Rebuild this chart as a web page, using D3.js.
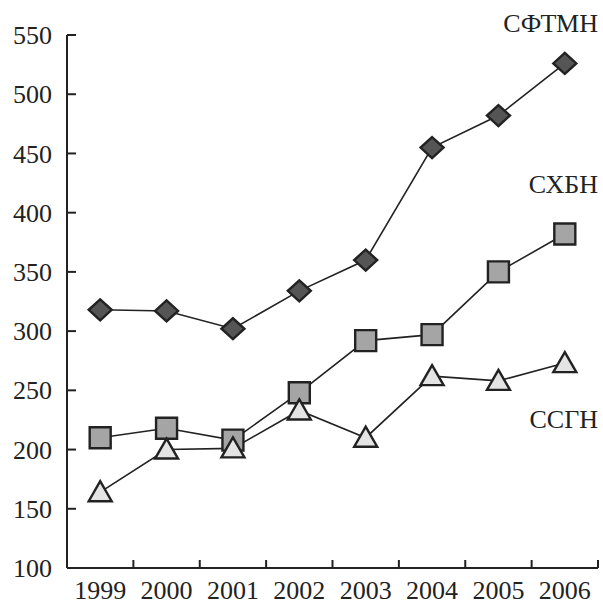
<!DOCTYPE html>
<html>
<head>
<meta charset="utf-8">
<script src="https://cdn.jsdelivr.net/npm/d3@7"></script>
<style>
  body { margin: 0; background: #fff; }
  text { font-family: "Liberation Serif", "DejaVu Serif", serif; fill: #222; }
</style>
</head>
<body>
<div id="chart"></div>
<script>
var years = ["1999", "2000", "2001", "2002", "2003", "2004", "2005", "2006"];
var sftmn = [318, 317, 302, 334, 360, 455, 482, 526];
var sxbn = [210, 218, 208, 248, 292, 297, 350, 382];
var ssgn = [164, 200, 201, 233, 210, 262, 258, 273];
var yTicks = [100, 150, 200, 250, 300, 350, 400, 450, 500, 550];

var W = 603, H = 604;
var margin = {top: 35, right: 5, bottom: 36, left: 67},
    width = W - margin.left - margin.right,
    height = H - margin.top - margin.bottom;

var svg = d3.select("#chart")
  .append("svg")
    .attr("width", W)
    .attr("height", H)
  .append("g")
    .attr("transform", "translate(" + margin.left + "," + margin.top + ")");

var x = d3.scaleBand()
  .domain(years)
  .range([0, width]);

var y = d3.scaleLinear()
  .domain([100, 550])
  .range([height, 0]);

// x axis: ticks between categories, pointing up
var xAxis = svg.append("g")
  .attr("transform", "translate(0," + height + ")");
xAxis.append("line")
  .attr("x1", 0).attr("x2", width)
  .attr("stroke", "#222").attr("stroke-width", 2);
xAxis.selectAll(".tk")
  .data(years)
  .enter().append("line")
    .attr("x1", function (d) { return x(d) + x.bandwidth(); })
    .attr("x2", function (d) { return x(d) + x.bandwidth(); })
    .attr("y1", 0).attr("y2", -8)
    .attr("stroke", "#222").attr("stroke-width", 2);
xAxis.selectAll(".lbl")
  .data(years)
  .enter().append("text")
    .attr("x", function (d) { return x(d) + x.bandwidth() / 2; })
    .attr("y", 31)
    .attr("text-anchor", "middle")
    .style("font-size", "26px")
    .text(function (d) { return d; });

// y axis
var yAxis = svg.append("g");
yAxis.append("line")
  .attr("y1", 0).attr("y2", height)
  .attr("stroke", "#222").attr("stroke-width", 2);
yAxis.selectAll(".tk")
  .data(yTicks)
  .enter().append("line")
    .attr("x1", 0).attr("x2", 9)
    .attr("y1", function (d) { return y(d); })
    .attr("y2", function (d) { return y(d); })
    .attr("stroke", "#222").attr("stroke-width", 2);
yAxis.selectAll(".lbl")
  .data(yTicks)
  .enter().append("text")
    .attr("x", -15)
    .attr("y", function (d) { return y(d); })
    .attr("dy", "0.35em")
    .attr("text-anchor", "end")
    .style("font-size", "26px")
    .text(function (d) { return d; });

var line = d3.line()
  .x(function (d, i) { return x(years[i]) + x.bandwidth() / 2; })
  .y(function (d) { return y(d); });

// marker outlines
var diamond = "M0,-10.5L11.5,0L0,10.5L-11.5,0Z";
var square = "M-10.5,-10.5H10.5V10.5H-10.5Z";
var triangle = "M0,-11L11.5,9L-11.5,9Z";

var series = [
  {name: "СФТМН", values: sftmn, shape: diamond, fill: "#555555", label: 526, dy: -31},
  {name: "СХБН", values: sxbn, shape: square, fill: "#a5a5a5", label: 382, dy: -41},
  {name: "ССГН", values: ssgn, shape: triangle, fill: "#e4e4e4", label: 273, dy: 65}
];

series.forEach(function (s) {
  svg.append("path")
    .datum(s.values)
    .attr("d", line)
    .attr("fill", "none")
    .attr("stroke", "#222")
    .attr("stroke-width", 1.6);
});

series.forEach(function (s) {
  svg.append("g")
    .selectAll("path")
    .data(s.values)
    .enter()
    .append("path")
      .attr("d", s.shape)
      .attr("transform", function (d, i) {
        return "translate(" + (x(years[i]) + x.bandwidth() / 2) + "," + y(d) + ")";
      })
      .attr("fill", s.fill)
      .attr("stroke", "#222")
      .attr("stroke-width", 2.4);

  svg.append("text")
    .attr("x", width)
    .attr("y", y(s.label) + s.dy)
    .attr("text-anchor", "end")
    .style("font-size", "26px")
    .text(s.name);
});
</script>
</body>
</html>
